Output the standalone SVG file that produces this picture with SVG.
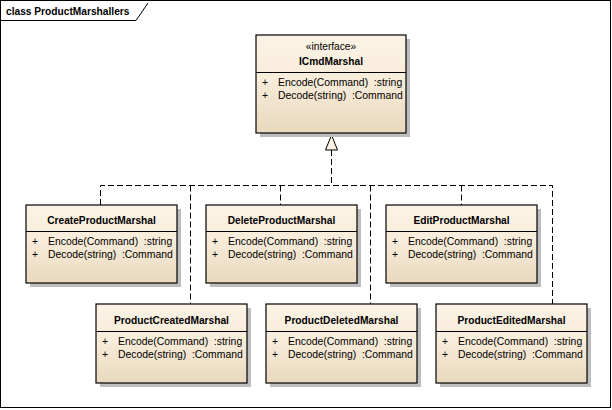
<svg xmlns="http://www.w3.org/2000/svg" width="612" height="410" viewBox="0 0 612 410">
<defs>
<linearGradient id="g" x1="0" y1="0" x2="0" y2="1">
<stop offset="0" stop-color="#FCF3E6"/>
<stop offset="0.45" stop-color="#F8ECDA"/>
<stop offset="1" stop-color="#E9D8BD"/>
</linearGradient>
<style>
.box{fill:url(#g);stroke:#000;stroke-width:1.2}
.sh{fill:#BDBDBD}
.div{stroke:#000;stroke-width:1}
.nm{font-family:"Liberation Sans",Arial,sans-serif;font-size:10.2px;font-weight:bold;text-anchor:middle;fill:#000}
.st{font-family:"Liberation Sans",Arial,sans-serif;font-size:10.2px;text-anchor:middle;fill:#000}
.it{font-family:"Liberation Sans",Arial,sans-serif;font-size:10.4px;fill:#000;white-space:pre}
.dash{fill:none;stroke:#000;stroke-width:1;stroke-dasharray:6,3}
</style>
</defs>
<rect x="0.5" y="0.5" width="610" height="407" fill="#fff" stroke="#000" stroke-width="1"/>
<path d="M0.5,20.5 H136 L148,3" fill="none" stroke="#000" stroke-width="1"/>
<text x="6" y="15" class="nm" style="text-anchor:start">class ProductMarshallers</text>

<g id="connectors">
<path class="dash" d="M331.5,150 V185.5"/>
<path class="dash" d="M100.5,205 V185.5 H552.5 V304"/>
<path class="dash" d="M190.5,185.5 V304"/>
<path class="dash" d="M280.5,185.5 V205"/>
<path class="dash" d="M370.5,185.5 V304"/>
<path class="dash" d="M461.5,185.5 V205"/>
<polygon points="331.5,135 325.5,150 337.5,150" fill="#FCF3E6" stroke="#000" stroke-width="1"/>
</g>

<g id="ICmdMarshal">
<rect class="sh" x="260" y="39" width="150" height="98"/>
<rect class="box" x="256" y="35" width="150" height="98"/>
<line class="div" x1="256" y1="72.5" x2="406" y2="72.5"/>
<text class="st" x="331" y="50">«interface»</text>
<text class="nm" x="331" y="65">ICmdMarshal</text>
<text class="it" x="262" y="86" xml:space="preserve">+</text>
<text class="it" x="278" y="86" xml:space="preserve">Encode(Command)  :string</text>
<text class="it" x="262" y="99" xml:space="preserve">+</text>
<text class="it" x="278" y="99" xml:space="preserve">Decode(string)  :Command</text>
</g>

<g id="CreateProductMarshal">
<rect class="sh" x="30" y="209" width="151" height="78"/>
<rect class="box" x="26" y="205" width="151" height="78"/>
<line class="div" x1="26" y1="231.5" x2="177" y2="231.5"/>
<text class="nm" x="101.5" y="224">CreateProductMarshal</text>
<text class="it" x="32" y="245" xml:space="preserve">+</text>
<text class="it" x="48" y="245" xml:space="preserve">Encode(Command)  :string</text>
<text class="it" x="32" y="258" xml:space="preserve">+</text>
<text class="it" x="48" y="258" xml:space="preserve">Decode(string)  :Command</text>
</g>

<g id="DeleteProductMarshal">
<rect class="sh" x="210" y="209" width="151" height="78"/>
<rect class="box" x="206" y="205" width="151" height="78"/>
<line class="div" x1="206" y1="231.5" x2="357" y2="231.5"/>
<text class="nm" x="281.5" y="224">DeleteProductMarshal</text>
<text class="it" x="212" y="245" xml:space="preserve">+</text>
<text class="it" x="228" y="245" xml:space="preserve">Encode(Command)  :string</text>
<text class="it" x="212" y="258" xml:space="preserve">+</text>
<text class="it" x="228" y="258" xml:space="preserve">Decode(string)  :Command</text>
</g>

<g id="EditProductMarshal">
<rect class="sh" x="390" y="209" width="151" height="78"/>
<rect class="box" x="386" y="205" width="151" height="78"/>
<line class="div" x1="386" y1="231.5" x2="537" y2="231.5"/>
<text class="nm" x="461.5" y="224">EditProductMarshal</text>
<text class="it" x="392" y="245" xml:space="preserve">+</text>
<text class="it" x="408" y="245" xml:space="preserve">Encode(Command)  :string</text>
<text class="it" x="392" y="258" xml:space="preserve">+</text>
<text class="it" x="408" y="258" xml:space="preserve">Decode(string)  :Command</text>
</g>

<g id="ProductCreatedMarshal">
<rect class="sh" x="100" y="308" width="151" height="79"/>
<rect class="box" x="96" y="304" width="151" height="79"/>
<line class="div" x1="96" y1="331.5" x2="247" y2="331.5"/>
<text class="nm" x="171.5" y="324">ProductCreatedMarshal</text>
<text class="it" x="102" y="345" xml:space="preserve">+</text>
<text class="it" x="118" y="345" xml:space="preserve">Encode(Command)  :string</text>
<text class="it" x="102" y="358" xml:space="preserve">+</text>
<text class="it" x="118" y="358" xml:space="preserve">Decode(string)  :Command</text>
</g>

<g id="ProductDeletedMarshal">
<rect class="sh" x="270" y="308" width="151" height="79"/>
<rect class="box" x="266" y="304" width="151" height="79"/>
<line class="div" x1="266" y1="331.5" x2="417" y2="331.5"/>
<text class="nm" x="341.5" y="324">ProductDeletedMarshal</text>
<text class="it" x="272" y="345" xml:space="preserve">+</text>
<text class="it" x="288" y="345" xml:space="preserve">Encode(Command)  :string</text>
<text class="it" x="272" y="358" xml:space="preserve">+</text>
<text class="it" x="288" y="358" xml:space="preserve">Decode(string)  :Command</text>
</g>

<g id="ProductEditedMarshal">
<rect class="sh" x="440" y="308" width="151" height="79"/>
<rect class="box" x="436" y="304" width="151" height="79"/>
<line class="div" x1="436" y1="331.5" x2="587" y2="331.5"/>
<text class="nm" x="511.5" y="324">ProductEditedMarshal</text>
<text class="it" x="442" y="345" xml:space="preserve">+</text>
<text class="it" x="458" y="345" xml:space="preserve">Encode(Command)  :string</text>
<text class="it" x="442" y="358" xml:space="preserve">+</text>
<text class="it" x="458" y="358" xml:space="preserve">Decode(string)  :Command</text>
</g>
</svg>
